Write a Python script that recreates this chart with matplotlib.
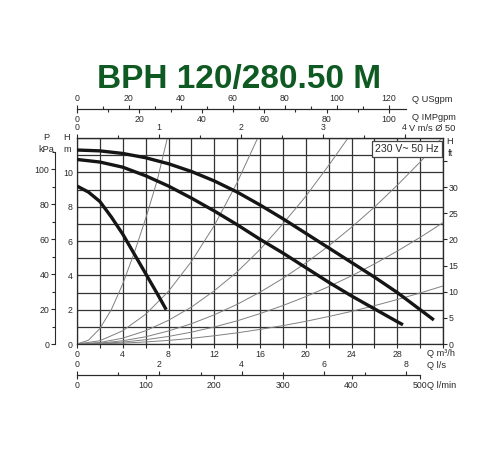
import matplotlib
matplotlib.use('Agg')
import matplotlib.pyplot as plt
from matplotlib.ticker import FixedLocator

plt.rcParams['font.family'] = ['Liberation Sans', 'DejaVu Sans']

title = 'BPH 120/280.50 M'
supply = '230 V~ 50 Hz'

# pump curves, Q in m3/h, H in m
q_speed3 = [0, 2, 4, 6, 8, 10, 12, 14, 16, 18, 20, 22, 24, 26, 28, 30, 31.2]
h_speed3 = [11.3, 11.25, 11.1, 10.85, 10.5, 10.05, 9.5, 8.85, 8.1, 7.3, 6.45, 5.6, 4.75, 3.9, 3.0, 2.0, 1.4]
q_speed2 = [0, 2, 4, 6, 8, 10, 12, 14, 16, 18, 20, 22, 24, 26, 28, 28.5]
h_speed2 = [10.75, 10.6, 10.3, 9.8, 9.2, 8.5, 7.75, 6.95, 6.1, 5.3, 4.45, 3.6, 2.8, 2.05, 1.3, 1.12]
q_speed1 = [0, 1, 2, 3, 4, 5, 6, 7, 7.8]
h_speed1 = [9.2, 8.85, 8.3, 7.4, 6.4, 5.25, 4.1, 2.95, 2.0]

# thin grey system curves
sys_q = [
    [0, 1, 2, 3, 4, 5, 6, 7, 7.9],
    [0, 2, 4, 6, 8, 10, 12, 14, 15.8],
    [0, 2, 4, 6, 8, 10, 12, 14, 16, 18, 20, 22, 23.7],
    [0, 2, 4, 6, 8, 10, 12, 14, 16, 18, 20, 22, 24, 26, 28, 30, 31.9],
    [0, 2, 4, 6, 8, 10, 12, 14, 16, 18, 20, 22, 24, 26, 28, 30, 32],
    [0, 2, 4, 6, 8, 10, 12, 14, 16, 18, 20, 22, 24, 26, 28, 30, 32],
]
sys_h = [
    [0, 0.22, 0.9, 2.0, 3.5, 5.3, 7.3, 9.5, 12.0],
    [0, 0.19, 0.77, 1.73, 3.07, 4.8, 6.9, 9.4, 12.0],
    [0, 0.09, 0.34, 0.77, 1.38, 2.15, 3.1, 4.2, 5.5, 7.0, 8.6, 10.4, 12.0],
    [0, 0.05, 0.19, 0.42, 0.76, 1.18, 1.7, 2.31, 3.02, 3.82, 4.72, 5.71, 6.8, 7.97, 9.25, 10.6, 12.0],
    [0, 0.03, 0.11, 0.25, 0.44, 0.69, 0.99, 1.35, 1.77, 2.24, 2.76, 3.34, 3.97, 4.66, 5.41, 6.21, 7.07],
    [0, 0.01, 0.05, 0.12, 0.21, 0.33, 0.48, 0.65, 0.85, 1.07, 1.32, 1.6, 1.9, 2.23, 2.59, 2.97, 3.38],
]

# scale ticks
q_ticks = [0, 4, 8, 12, 16, 20, 24, 28]
h_ticks = [0, 2, 4, 6, 8, 10]
ft_ticks = [0, 5, 10, 15, 20, 25, 30, 35]
ft_labels = ['0', '5', '10', '15', '20', '25', '30', '']
kpa_ticks = [0, 20, 40, 60, 80, 100]
v_ticks = [0, 1, 2, 3, 4]
usgpm_ticks = [0, 20, 40, 60, 80, 100, 120]
impgpm_ticks = [0, 20, 40, 60, 80, 100]
ls_ticks = [0, 2, 4, 6, 8]
lmin_ticks = [0, 100, 200, 300, 400, 500]

# unit conversions
M3H_PER_USGPM = 0.22712
M3H_PER_IMPGPM = 0.27277
M3H_PER_MS = 7.16          # pipe DN 50
KPA_PER_M = 9.81
FT_PER_M = 3.2808

Q_MAX, H_MAX = 32, 12
W, H = 500, 450
ink = '#2a2a2a'
fs = 6.3

def fx(px):
    return px / W

def fy(py):
    return 1 - py / H

def minor(step, top):
    return FixedLocator([i * step for i in range(int(top / step) + 1)])

ax_l, ax_r, ax_b, ax_t = fx(77), fx(443), fy(344), fy(138)
ax_w = ax_r - ax_l
tick_kw = dict(width=0.8, color=ink, labelsize=fs, labelcolor=ink)

fig = plt.figure(figsize=(5, 4.5), dpi=100)
ax = fig.add_axes([ax_l, ax_b, ax_w, ax_t - ax_b])
ax.set_xlim(0, Q_MAX)
ax.set_ylim(0, H_MAX)
ax.xaxis.set_major_locator(FixedLocator(q_ticks))
ax.xaxis.set_minor_locator(minor(2, Q_MAX))
ax.yaxis.set_major_locator(FixedLocator(h_ticks))
ax.yaxis.set_minor_locator(minor(1, H_MAX))
ax.grid(True, which='both', color='#333333', lw=0.9)
ax.tick_params(axis='x', which='both', length=3, pad=1, **tick_kw)
ax.tick_params(axis='y', which='both', length=0, pad=3, **tick_kw)
for s in ax.spines.values():
    s.set_color(ink)
    s.set_linewidth(0.9)

for qs, hs in zip(sys_q, sys_h):
    ax.plot(qs, hs, color='#808080', lw=0.7, zorder=2)
for qs, hs in [(q_speed3, h_speed3), (q_speed2, h_speed2), (q_speed1, h_speed1)]:
    ax.plot(qs, hs, color='#151515', lw=2.4, solid_capstyle='butt', zorder=3)

# right axis in feet
ax_ft = ax.secondary_yaxis('right', functions=(lambda m: m * FT_PER_M, lambda f: f / FT_PER_M))
ax_ft.set_yticks(ft_ticks)
ax_ft.set_yticklabels(ft_labels)
ax_ft.tick_params(length=3, pad=1, **tick_kw)
ax_ft.spines['right'].set_color(ink)

# top velocity axis
ax_v = ax.secondary_xaxis('top', functions=(lambda q: q / M3H_PER_MS, lambda v: v * M3H_PER_MS))
ax_v.set_xticks(v_ticks)
ax_v.xaxis.set_minor_locator(minor(0.5, 4))
ax_v.tick_params(which='both', length=3, pad=1, **tick_kw)
ax_v.tick_params(which='minor', length=2)

# pressure axis on the far left
ax_p = fig.add_axes([fx(55), ax_b, 1e-4, ax_t - ax_b])
ax_p.set_ylim(0, H_MAX * KPA_PER_M)
ax_p.set_xticks([])
for side in ['right', 'top', 'bottom']:
    ax_p.spines[side].set_visible(False)
ax_p.spines['left'].set_bounds(0, 110)
ax_p.spines['left'].set_color(ink)
ax_p.spines['left'].set_linewidth(0.8)
ax_p.yaxis.set_major_locator(FixedLocator(kpa_ticks))
ax_p.yaxis.set_minor_locator(minor(10, 110))
ax_p.tick_params(which='both', length=3, pad=1, **tick_kw)
ax_p.tick_params(which='minor', length=2)


def double_scale(y_px, q_end, top_max, top_ticks, top_step, bot_max, bot_ticks, bot_step):
    # one line with a scale above and another below
    a_top = fig.add_axes([ax_l, fy(y_px), ax_w * q_end / Q_MAX, 1e-4])
    a_bot = a_top.twiny()
    a_top.set_xlim(0, top_max)
    a_bot.set_xlim(0, bot_max)
    a_top.set_yticks([])
    a_top.xaxis.set_ticks_position('top')
    a_top.xaxis.set_major_locator(FixedLocator(top_ticks))
    a_top.xaxis.set_minor_locator(minor(top_step, top_max))
    a_bot.xaxis.set_ticks_position('bottom')
    a_bot.xaxis.set_major_locator(FixedLocator(bot_ticks))
    a_bot.xaxis.set_minor_locator(minor(bot_step, bot_max))
    for a in (a_top, a_bot):
        a.tick_params(which='both', length=3, pad=1, **tick_kw)
        a.tick_params(which='minor', length=2.5)
        for side in ['left', 'right', 'bottom']:
            a.spines[side].set_visible(False)
        a.spines['top'].set_color(ink)
        a.spines['top'].set_linewidth(0.8)
        a.patch.set_visible(False)
    return a_top, a_bot


q_top_end = 28.8
double_scale(109, q_top_end, q_top_end / M3H_PER_USGPM, usgpm_ticks, 10,
             q_top_end / M3H_PER_IMPGPM, impgpm_ticks, 10)
q_bot_end = 30
double_scale(375, q_bot_end, q_bot_end / 3.6, ls_ticks, 1,
             q_bot_end / 0.06, lmin_ticks, 100)

# title and unit texts
fig.text(fx(239), fy(88), title, ha='center', va='baseline', fontsize=24,
         fontweight='bold', color='#0f5a22')
unit_kw = dict(fontsize=fs + 0.4, color=ink, va='center')
fig.text(fx(412), fy(100), 'Q USgpm', ha='left', **unit_kw)
fig.text(fx(412), fy(117), 'Q IMPgpm', ha='left', **unit_kw)
fig.text(fx(409), fy(128.5), 'V m/s Ø 50', ha='left', **unit_kw)
fig.text(fx(427), fy(354), 'Q m³/h', ha='left', **unit_kw)
fig.text(fx(427), fy(366), 'Q l/s', ha='left', **unit_kw)
fig.text(fx(427), fy(385), 'Q l/min', ha='left', **unit_kw)
fig.text(fx(46), fy(137), 'P', ha='center', **unit_kw)
fig.text(fx(46), fy(149), 'kPa', ha='center', **unit_kw)
fig.text(fx(67), fy(137), 'H', ha='center', **unit_kw)
fig.text(fx(67), fy(149), 'm', ha='center', **unit_kw)
fig.text(fx(450), fy(141), 'H', ha='center', **unit_kw)
fig.text(fx(450), fy(153), 'ft', ha='center', **unit_kw)

fig.text(fx(407), fy(149), supply, ha='center', va='center', fontsize=7.6, color=ink,
         zorder=5, bbox=dict(boxstyle='square,pad=0.25', fc='white', ec='#444444', lw=0.9))

fig.savefig('out.png', dpi=100)
